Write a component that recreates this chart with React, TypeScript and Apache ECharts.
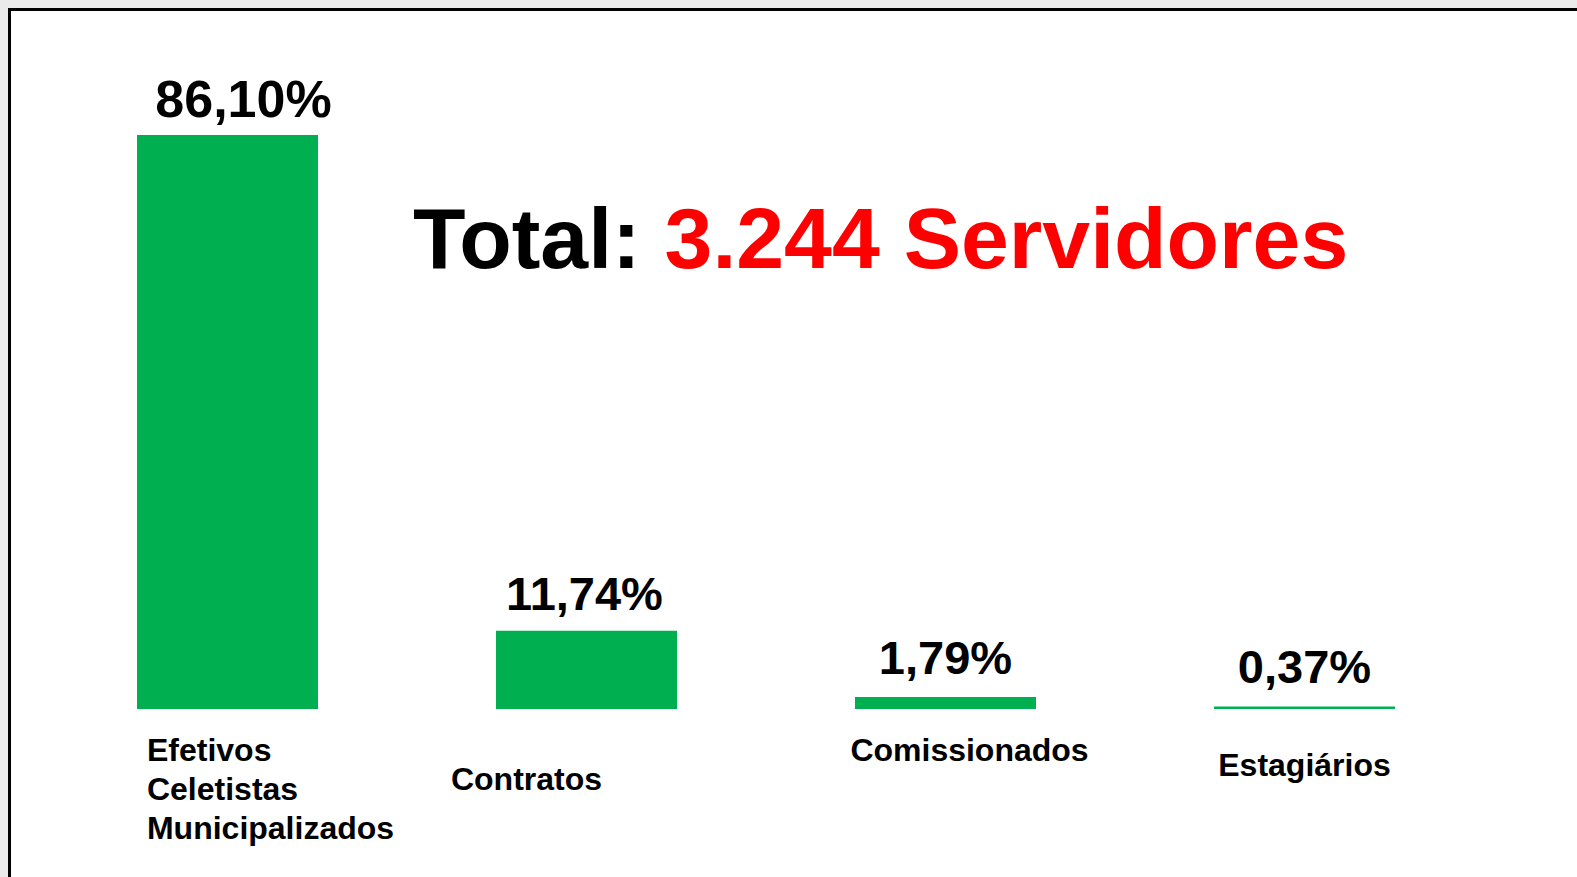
import React, { useEffect, useRef } from "react";
import * as echarts from "echarts";

const categories = ["Efetivos\nCeletistas\nMunicipalizados", "Contratos", "Comissionados", "Estagiários"];
const percentValues = [86.1, 11.74, 1.79, 0.37];
const totalLabel = "Total: ";
const totalValue = "3.244 Servidores";

const FONT = '"Liberation Sans", Arial, sans-serif';
const GREEN = "#00b050";

const valueLabelStyles = [
  { fontSize: 52, distance: 10, offset: [16, 0] },
  { fontSize: 47, distance: 14, offset: [-2, 0] },
  { fontSize: 47, distance: 16, offset: [0, 0] },
  { fontSize: 47, distance: 17, offset: [0, 0] },
];

const catRichKeys = ["c0", "c1", "c2", "c3"];

export default function App() {
  const ref = useRef<HTMLDivElement>(null);
  useEffect(() => {
    if (!ref.current) return;
    const chart = echarts.init(ref.current, undefined, { renderer: "svg" });
    const baseCat = { fontFamily: FONT, fontWeight: "bold", fontSize: 32, color: "#000" };
    chart.setOption({
      animation: false,
      backgroundColor: "#ebebeb",
      graphic: [
        { type: "rect", z: -10, shape: { x: 8, y: 8, width: 1569, height: 869 }, style: { fill: "#ffffff" } },
        { type: "rect", z: -9, shape: { x: 8, y: 8, width: 1569, height: 3 }, style: { fill: "#000000" } },
        { type: "rect", z: -9, shape: { x: 8, y: 8, width: 3, height: 869 }, style: { fill: "#000000" } },
        {
          type: "text",
          z: 10,
          x: 413,
          y: 238,
          style: {
            text: `{a|${totalLabel}}{b|${totalValue}}`,
            verticalAlign: "middle",
            align: "left",
            rich: {
              a: { fontFamily: FONT, fontWeight: "bold", fontSize: 86, fill: "#000000", color: "#000000" },
              b: { fontFamily: FONT, fontWeight: "bold", fontSize: 86, fill: "#ff0000", color: "#ff0000" },
            },
          },
        },
      ],
      grid: { left: 48, right: 93, top: 135, bottom: 168, containLabel: false },
      xAxis: {
        type: "category",
        data: categories,
        axisLine: { show: false },
        axisTick: { show: false },
        axisLabel: {
          interval: 0,
          margin: 21,
          formatter: (v: string) => {
            const i = categories.indexOf(v);
            const key = catRichKeys[i];
            return v
              .split("\n")
              .map((line) => `{${key}|${line}}`)
              .join("\n");
          },
          rich: {
            c0: { ...baseCat, align: "left", lineHeight: 39, padding: [0, 0, 0, 86] },
            c1: { ...baseCat, lineHeight: 97, padding: [0, 120, 0, 0] },
            c2: { ...baseCat, lineHeight: 39, padding: [0, 0, 0, 48] },
            c3: { ...baseCat, lineHeight: 69, padding: [0, 0, 0, 0] },
          },
        },
      },
      yAxis: { type: "value", min: 0, max: 86.1, show: false, splitLine: { show: false } },
      series: [
        {
          type: "bar",
          barWidth: 181,
          itemStyle: { color: GREEN },
          data: percentValues.map((v, i) => ({
            value: v,
            label: {
              fontSize: valueLabelStyles[i].fontSize,
              distance: valueLabelStyles[i].distance,
              offset: valueLabelStyles[i].offset,
            },
          })),
          label: {
            show: true,
            position: "top",
            fontFamily: FONT,
            fontWeight: "bold",
            color: "#000",
            formatter: (p: any) => p.value.toFixed(2).replace(".", ",") + "%",
          },
        },
      ],
    });
    return () => chart.dispose();
  }, []);
  return (
    <div
      ref={ref}
      style={{ position: "fixed", left: 0, top: 0, width: 1577, height: 877 }}
    />
  );
}
